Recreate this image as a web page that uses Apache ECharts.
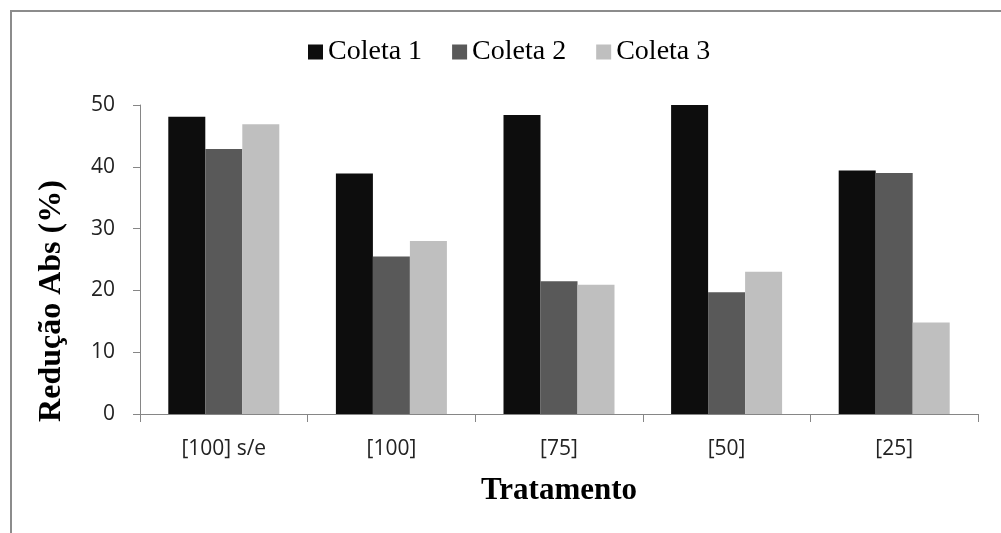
<!DOCTYPE html>
<html>
<head>
<meta charset="utf-8">
<script src="https://cdn.jsdelivr.net/npm/echarts@6/dist/echarts.min.js"></script>
<style>html,body{margin:0;padding:0;background:#fff;}#c{width:1001px;height:533px;}</style>
</head>
<body>
<div id="c"></div>
<script>
const categories = ['[100] s/e', '[100]', '[75]', '[50]', '[25]'];
const seriesNames = ['Coleta 1', 'Coleta 2', 'Coleta 3'];
const coleta1 = [48.1, 38.9, 48.4, 50.0, 39.4];
const coleta2 = [42.9, 25.5, 21.5, 19.7, 39.0];
const coleta3 = [46.9, 28.0, 20.9, 23.0, 14.8];
const yTicks = { min: 0, max: 50, interval: 10 };
const colors = ['#0d0d0d', '#595959', '#bfbfbf'];

const chart = echarts.init(document.getElementById('c'), null, { renderer: 'canvas' });
const serif = '"Liberation Serif", "Times New Roman", serif';
const sans = '"Open Sans", "DejaVu Sans", sans-serif';
const values = [coleta1, coleta2, coleta3];

chart.setOption({
  animation: false,
  backgroundColor: '#ffffff',
  color: colors,
  grid: { left: 140, right: 23, top: 105, bottom: 119, containLabel: false },
  legend: {
    data: seriesNames,
    left: 308,
    top: 38,
    padding: 0,
    itemWidth: 15,
    itemHeight: 15,
    itemGap: 30,
    icon: 'rect',
    textStyle: { fontFamily: serif, fontSize: 28, color: '#000' }
  },
  xAxis: {
    type: 'category',
    data: categories,
    name: 'Tratamento',
    nameLocation: 'middle',
    nameGap: 61,
    nameTextStyle: { fontFamily: serif, fontSize: 31, fontWeight: 'bold', color: '#000' },
    axisLine: { lineStyle: { color: '#868686', width: 1 } },
    axisTick: { show: true, length: 8, lineStyle: { color: '#868686' } },
    axisLabel: { fontFamily: sans, fontSize: 21, color: '#222', margin: 25 }
  },
  yAxis: {
    type: 'value',
    min: yTicks.min,
    max: yTicks.max,
    interval: yTicks.interval,
    axisLine: { show: true, lineStyle: { color: '#868686', width: 1 } },
    axisTick: { show: true, length: 7, lineStyle: { color: '#868686' } },
    splitLine: { show: false },
    axisLabel: { fontFamily: sans, fontSize: 21, color: '#222', margin: 25 }
  },
  graphic: [
    {
      type: 'rect',
      shape: { x: 11, y: 11, width: 1100, height: 700 },
      style: { fill: 'none', stroke: '#8c8c8c', lineWidth: 2 },
      silent: true
    },
    {
      type: 'text',
      x: 52, y: 301,
      rotation: Math.PI / 2,
      style: {
        text: 'Redução Abs (%)',
        fontFamily: serif, fontSize: 32, fontWeight: 'bold', fill: '#000',
        align: 'center', verticalAlign: 'middle'
      },
      silent: true
    }
  ],
  series: seriesNames.map((n, i) => ({
    name: n,
    type: 'bar',
    data: values[i],
    barWidth: 37,
    barGap: '0%',
    itemStyle: { color: colors[i] }
  }))
});
</script>
</body>
</html>
